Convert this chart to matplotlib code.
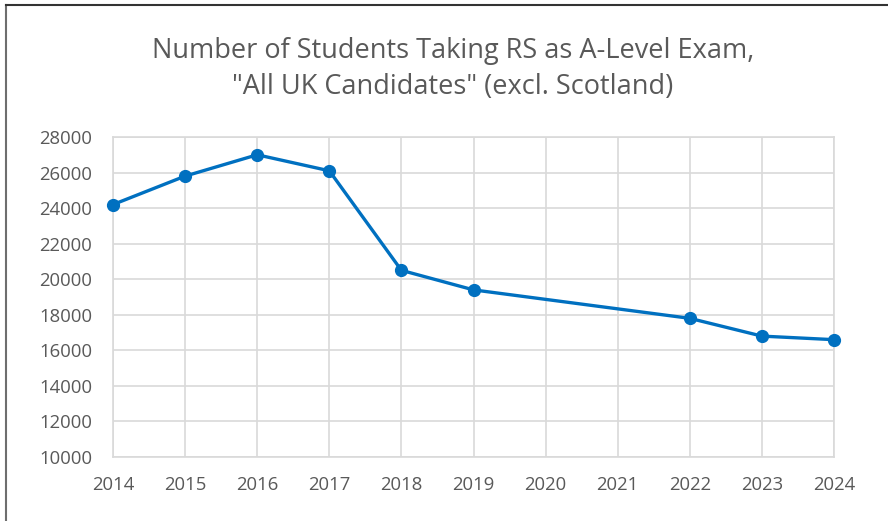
import numpy as np
import matplotlib.pyplot as plt
from matplotlib.lines import Line2D

# data (2020 and 2021 have no points)
years = [2014, 2015, 2016, 2017, 2018, 2019, 2020, 2021, 2022, 2023, 2024]
students = [24200, 25800, 27000, 26100, 20500, 19400, np.nan, np.nan, 17800, 16800, 16600]
y_ticks = list(range(10000, 28001, 2000))

title = 'Number of Students Taking RS as A-Level Exam,\n"All UK Candidates" (excl. Scotland)'

plt.rcParams['font.family'] = ['Open Sans', 'DejaVu Sans']

fig = plt.figure(figsize=(8.88, 5.21), dpi=100)
ax = fig.add_axes([113 / 888, 1 - 457 / 521, (834 - 113) / 888, (457 - 137) / 521])

# skip the gaps so the line joins 2019 straight to 2022
xs = [x for x, y in zip(years, students) if not np.isnan(y)]
ys = [y for y in students if not np.isnan(y)]
ax.plot(xs, ys, color='#0070C0', lw=2.4, marker='o', ms=8.5, zorder=3, clip_on=False)

ax.set_xlim(years[0], years[-1])
ax.set_ylim(y_ticks[0], y_ticks[-1])
ax.set_xticks(years)
ax.set_yticks(y_ticks)
ax.grid(True, color='#d9d9d9', lw=1.2)
for s in ax.spines.values():
    s.set_color('#d9d9d9')
    s.set_linewidth(1.2)
ax.tick_params(length=0, labelsize=13.3, colors='#595959')
ax.tick_params(axis='x', pad=14)
ax.tick_params(axis='y', pad=15)

fig.text(453 / 888, 1 - 69 / 521, title, ha='center', va='center',
         fontsize=19.5, color='#595959', linespacing=1.38)

# outer frame (left and top edges only, as in the source image)
fig.add_artist(Line2D([5.5 / 888, 5.5 / 888], [0, 1 - 5 / 521], color='#6e6e6e', lw=1.5))
fig.add_artist(Line2D([5.5 / 888, 1], [1 - 5 / 521, 1 - 5 / 521], color='#333333', lw=1.5))

fig.savefig('out.png', dpi=100)
